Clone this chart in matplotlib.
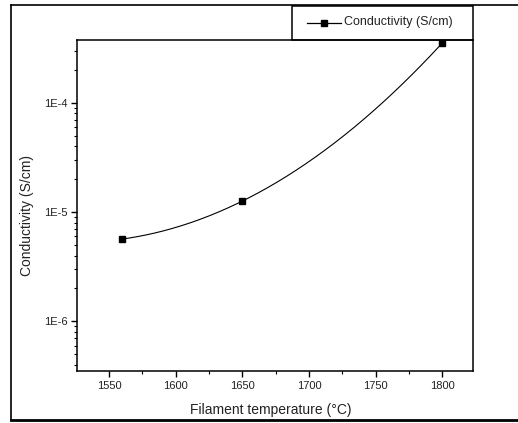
import numpy as np
import matplotlib
matplotlib.use("Agg")
import matplotlib.pyplot as plt
from matplotlib.lines import Line2D
from matplotlib.patches import Rectangle
from matplotlib.ticker import FixedLocator, FuncFormatter, LogLocator, NullFormatter, MultipleLocator

plt.rcParams['font.family'] = ['Liberation Sans', 'DejaVu Sans']

# Measured conductivity versus filament temperature
temperature = [1560, 1650, 1800]           # °C
conductivity = [5.66e-6, 1.26e-5, 3.53e-4]  # S/cm

x_ticks = [1550, 1600, 1650, 1700, 1750, 1800]
y_ticks = [1e-6, 1e-5, 1e-4]
series_label = "Conductivity (S/cm)"

W, H = 518, 423
fig = plt.figure(figsize=(W / 100, H / 100), dpi=100)

def fx(px):
    return px / W

def fy(py):
    return 1 - py / H

TEXT = '#222222'

ax = fig.add_axes([fx(77), fy(371), fx(473) - fx(77), fy(40) - fy(371)])

# smooth connecting curve through the points (quadratic in log space)
lx = np.array(temperature, dtype=float)
ly = np.log10(conductivity)
coef = np.polyfit(lx, ly, 2)
xs = np.linspace(lx.min(), lx.max(), 200)
ax.plot(xs, 10 ** np.polyval(coef, xs), color='black', lw=0.8)
ax.plot(temperature, conductivity, ls='none', marker='s', ms=5, color='black')

ax.set_yscale('log')
ax.set_xlim(1526, 1823)
ax.set_ylim(10 ** -6.455, 10 ** -3.425)

ax.xaxis.set_major_locator(FixedLocator(x_ticks))
ax.xaxis.set_minor_locator(MultipleLocator(25))
ax.yaxis.set_major_locator(FixedLocator(y_ticks))
ax.yaxis.set_minor_locator(LogLocator(base=10, subs=np.arange(2, 10)))
ax.yaxis.set_minor_formatter(NullFormatter())
ax.yaxis.set_major_formatter(FuncFormatter(lambda v, p: "1E%d" % round(np.log10(v))))

ax.tick_params(which='major', direction='out', length=4, width=1.0, labelsize=8,
               color='black', labelcolor=TEXT, pad=3)
ax.tick_params(which='minor', direction='out', length=2.2, width=0.8)
for s in ax.spines.values():
    s.set_linewidth(1.1)

ax.set_xlabel("Filament temperature (°C)", fontsize=10, color=TEXT)
ax.xaxis.set_label_coords(0.49, -0.097)
ax.set_ylabel(series_label, fontsize=10, color=TEXT)
ax.yaxis.set_label_coords(-0.108, 0.47)

# legend box above the plot area
fig.add_artist(Rectangle((fx(292), fy(40)), fx(473) - fx(292), fy(6) - fy(40),
                         transform=fig.transFigure, fill=False, lw=1.1, ec='black'))
fig.add_artist(Line2D([fx(307), fx(341)], [fy(23), fy(23)], color='black', lw=0.9,
                      transform=fig.transFigure))
fig.add_artist(Line2D([fx(324)], [fy(23)], ls='none', marker='s', ms=4.5, color='black',
                      transform=fig.transFigure))
fig.text(fx(344), fy(22.5), series_label, fontsize=9, va='center', ha='left', color=TEXT)

# outer frame
fig.add_artist(Line2D([fx(11), 1], [fy(5), fy(5)], color='black', lw=1.2, transform=fig.transFigure))
fig.add_artist(Line2D([fx(11), fx(11)], [fy(5), fy(420)], color='black', lw=1.2, transform=fig.transFigure))
fig.add_artist(Line2D([fx(11), 1], [fy(420), fy(420)], color='black', lw=2.0, transform=fig.transFigure))

fig.savefig("out.png", dpi=100)
